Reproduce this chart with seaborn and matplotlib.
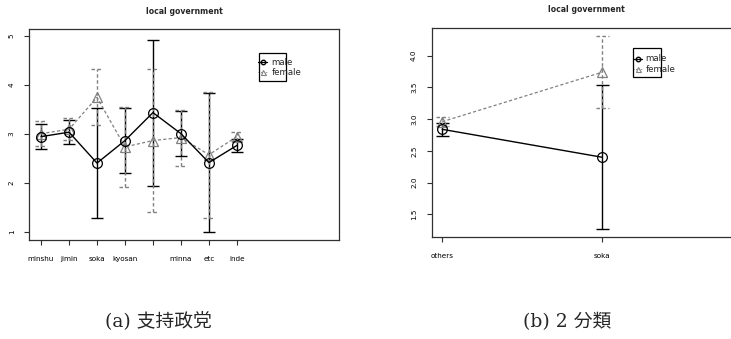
import matplotlib
matplotlib.use("Agg")
import matplotlib.pyplot as plt
from matplotlib.patches import Rectangle
from matplotlib.lines import Line2D
import seaborn as sns
import numpy as np

sns.set_style("white")

# ---------------- data ----------------
title = "local government"
party_labels = ["minshu", "jimin", "soka", "kyosan", "", "minna", "etc", "inde"]
male_party_mean = [2.94, 3.03, 2.40, 2.86, 3.43, 3.00, 2.41, 2.76]
male_party_err = [0.25, 0.25, 1.13, 0.67, 1.49, 0.46, 1.42, 0.13]
female_party_mean = [3.00, 3.09, 3.74, 2.73, 2.86, 2.92, 2.57, 2.94]
female_party_err = [0.26, 0.22, 0.57, 0.81, 1.45, 0.57, 1.29, 0.09]

group_labels = ["others", "soka"]
male_group_mean = [2.84, 2.40]
male_group_err = [0.10, 1.13]
female_group_mean = [2.96, 3.74]
female_group_err = [0.07, 0.57]

legend_labels = ["male", "female"]
caption_a = "(a) 支持政党"
caption_b = "(b) 2 分類"

W, H = 731, 339
fig = plt.figure(figsize=(W / 100, H / 100), dpi=100)
fig.patch.set_facecolor("white")

MALE_C = "black"
FEM_C = "#808080"
TICK_FS = 5.2
LEG_FS = 6.2


def fx(px):
    return px / W


def fy(py):
    return 1 - py / H


def draw_panel(ax, labels, mm, me, fm, fe, caphalf):
    pos = np.arange(1, len(labels) + 1)
    for m, e, c, ls in ((mm, me, MALE_C, "-"), (fm, fe, FEM_C, (0, (2.5, 1.8)))):
        m = np.asarray(m)
        e = np.asarray(e)
        ax.vlines(pos, m - e, m + e, colors=c, linestyles=ls, lw=1.0, zorder=2)
        ax.hlines(m - e, pos - caphalf, pos + caphalf, colors=c, linestyles=ls, lw=1.0, zorder=2)
        ax.hlines(m + e, pos - caphalf, pos + caphalf, colors=c, linestyles=ls, lw=1.0, zorder=2)
    sns.lineplot(x=pos, y=fm, ax=ax, color=FEM_C, lw=0.9, linestyle=(0, (2.5, 1.8)),
                 marker="^", markersize=7.5, markerfacecolor="none",
                 markeredgecolor=FEM_C, markeredgewidth=0.9, zorder=3)
    sns.lineplot(x=pos, y=mm, ax=ax, color=MALE_C, lw=1.0,
                 marker="o", markersize=7, markerfacecolor="none",
                 markeredgecolor=MALE_C, markeredgewidth=0.9, zorder=4)
    ax.set_xticks(pos)
    ax.set_xticklabels(labels, fontsize=TICK_FS)
    for sp in ax.spines.values():
        sp.set_color("#303030")
        sp.set_linewidth(0.9)
    ax.tick_params(axis="both", direction="out", length=3.5, width=0.8,
                   colors="#303030", labelcolor="black", labelsize=TICK_FS,
                   bottom=True, left=True, pad=7)
    ax.tick_params(axis="x", pad=8)
    ax.set_xlabel("")
    ax.set_ylabel("")
    ax.grid(False)


def draw_legend(x0, x1, y0, y1, ym, yf, sx, tx):
    fig.add_artist(Rectangle((fx(x0), fy(y1)), fx(x1) - fx(x0), fy(y0) - fy(y1),
                             transform=fig.transFigure, fill=False,
                             edgecolor="black", lw=0.9, zorder=5))
    fig.add_artist(Line2D([fx(sx - 5), fx(sx + 4)], [fy(ym), fy(ym)],
                          transform=fig.transFigure, color=MALE_C, lw=0.9))
    fig.add_artist(Line2D([fx(sx)], [fy(ym)], transform=fig.transFigure,
                          color=MALE_C, marker="o", markersize=3.2,
                          markerfacecolor="none", markeredgewidth=1.0, lw=0))
    fig.add_artist(Line2D([fx(sx - 5), fx(sx + 4)], [fy(yf), fy(yf)],
                          transform=fig.transFigure, color=FEM_C, lw=0.6,
                          linestyle=(0, (1.5, 1.5))))
    fig.add_artist(Line2D([fx(sx)], [fy(yf)], transform=fig.transFigure,
                          color=FEM_C, marker="^", markersize=3.6,
                          markerfacecolor="white", markeredgewidth=0.8, lw=0))
    fig.text(fx(tx), fy(ym), legend_labels[0], fontsize=LEG_FS, va="center", ha="left", zorder=6)
    fig.text(fx(tx), fy(yf), legend_labels[1], fontsize=LEG_FS, va="center", ha="left", zorder=6)


# ---------------- left panel ----------------
axL = fig.add_axes([fx(29.3), fy(240), fx(339) - fx(29.3), fy(29.3) - fy(240)])
draw_panel(axL, party_labels, male_party_mean, male_party_err,
           female_party_mean, female_party_err, 0.21)
axL.set_xlim(0.58, 11.65)
axL.set_ylim(0.83, 5.13)
axL.set_yticks([1, 2, 3, 4, 5])
axL.set_yticklabels(["1", "2", "3", "4", "5"], rotation=90, va="center")
fig.text(fx(184), fy(12), title, fontsize=5.6, fontweight="bold", ha="center", va="center")
draw_legend(259.3, 286, 52.7, 81.3, 62.3, 72.3, 263, 271.5)

# ---------------- right panel ----------------
axR = fig.add_axes([fx(431.7), fy(236.7), fx(740) - fx(431.7), fy(28.3) - fy(236.7)])
draw_panel(axR, group_labels, male_group_mean, male_group_err,
           female_group_mean, female_group_err, 0.04)
axR.set_xlim(0.934, 2.86)
axR.set_ylim(1.15, 4.43)
axR.set_yticks([1.5, 2.0, 2.5, 3.0, 3.5, 4.0])
axR.set_yticklabels(["1.5", "2.0", "2.5", "3.0", "3.5", "4.0"], rotation=90, va="center")
fig.text(fx(586), fy(10), title, fontsize=5.6, fontweight="bold", ha="center", va="center")
draw_legend(633.3, 660.7, 48.3, 77.3, 58.7, 69.0, 638, 645.5)

# ---------------- captions ----------------
cap_fam = ["DejaVu Serif", "Noto Sans CJK JP"]
fig.text(fx(158), fy(322), caption_a, fontsize=13.5, family=cap_fam, ha="center", va="center")
fig.text(fx(567), fy(322), caption_b, fontsize=13.5, family=cap_fam, ha="center", va="center")

fig.savefig("out.png", dpi=100, facecolor="white")
